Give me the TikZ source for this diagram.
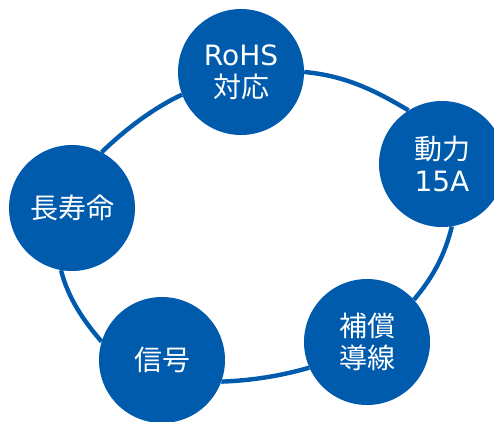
\documentclass[tikz,border=0pt]{standalone}
\usepackage{fontspec}
\setmainfont{DejaVu Sans}
\newfontfamily\cjk{Noto Sans CJK JP}
\usetikzlibrary{backgrounds}
\definecolor{ringblue}{RGB}{0,91,172}
\tikzset{
  badge/.style={circle, fill=ringblue, draw=none, minimum size=126pt, inner sep=0pt,
    text=white, align=center, font=\fontsize{28}{32}\selectfont},
  ring/.style={draw=ringblue, line width=4.4pt}
}
\begin{document}
\begin{tikzpicture}[x=1pt, y=-1pt]
\useasboundingbox (0,0) rectangle (494,421);
\node[badge] (rohs)   at (241,72)  {RoHS\\{\cjk 対応}};
\node[badge] (power)  at (442,164) {{\cjk 動力}\\15A};
\node[badge] (comp)   at (367,342) {{\cjk 補償}\\{\cjk 導線}};
\node[badge] (signal) at (162,360) {{\cjk 信号}};
\node[badge] (life)   at (72,208)  {{\cjk 長寿命}};
\begin{scope}[on background layer]
\draw[ring] (rohs.0) .. controls +(-5:40pt) and +(149:40pt) .. (power.122);
\draw[ring] (power.-81) .. controls +(-104:30pt) and +(50:30pt) .. (comp.42);
\draw[ring] (comp.204) .. controls +(196:30pt) and +(2:30pt) .. (signal.-20);
\draw[ring] (signal.163) .. controls +(131:28pt) and +(-76:28pt) .. (life.260);
\draw[ring] (life.62) .. controls +(44:32pt) and +(205:32pt) .. (rohs.201);
\end{scope}
\end{tikzpicture}
\end{document}
